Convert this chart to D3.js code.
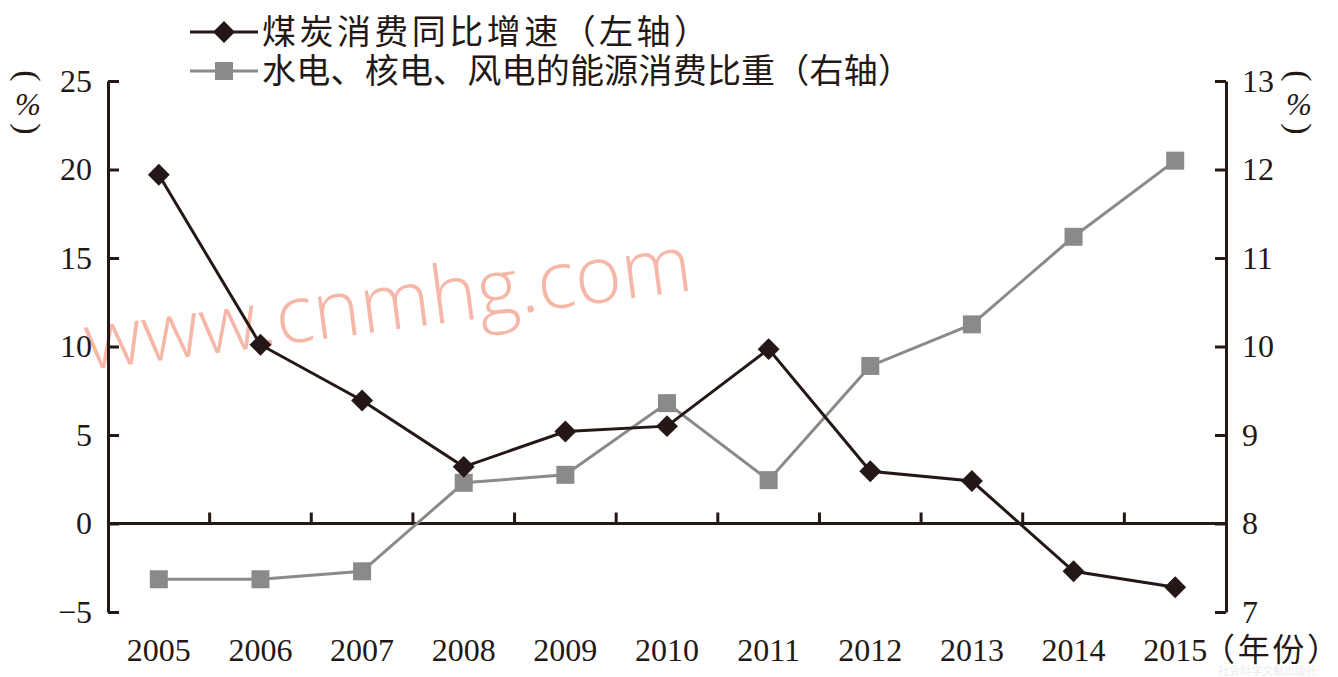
<!DOCTYPE html>
<html><head><meta charset="utf-8">
<script src="https://cdn.jsdelivr.net/npm/d3@7"></script>
<style>html,body{margin:0;padding:0;background:#fff;}svg{display:block;}</style>
</head><body>
<svg id="c" width="1338" height="677"></svg>
<script>
const years = ["2005","2006","2007","2008","2009","2010","2011","2012","2013","2014","2015"];
const coalGrowth = [19.7, 10.1, 6.95, 3.2, 5.2, 5.5, 9.85, 2.95, 2.4, -2.7, -3.6];
const cleanShare = [7.37, 7.37, 7.46, 8.46, 8.55, 9.36, 8.49, 9.78, 10.25, 11.24, 12.1];
const leftTicks = [-5, 0, 5, 10, 15, 20, 25];
const rightTicks = [7, 8, 9, 10, 11, 12, 13];
const legendLabels = ["煤炭消费同比增速（左轴）", "水电、核电、风电的能源消费比重（右轴）"];
const xUnit = "（年份）";

const ink = "#231815", grey = "#8a8a8a";
const svg = d3.select("#c");
const x = d3.scaleBand().domain(years).range([108, 1226]);
const yL = d3.scaleLinear().domain([-5, 25]).range([612, 81]);
const yR = d3.scaleLinear().domain([7, 13]).range([612, 81]);
const cx = d => x(d) + x.bandwidth() / 2;

// watermark
svg.append("text").text("www.cnmhg.com")
  .attr("transform", "translate(88,370) rotate(-7.5)")
  .attr("font-family", "Open Sans").attr("font-weight", 300)
  .attr("font-size", 80).attr("fill", "#f5b8a8");

const serif = "Liberation Serif, Times New Roman, serif";
const cjk = "Noto Sans CJK SC, sans-serif";

// left axis
const gL = svg.append("g").attr("transform", "translate(108,0)")
  .call(d3.axisLeft(yL).tickValues(leftTicks).tickSizeInner(-11).tickSizeOuter(0).tickPadding(16)
    .tickFormat(d => d < 0 ? "\u2212" + Math.abs(d) : d));
// right axis
const gR = svg.append("g").attr("transform", "translate(1226,0)")
  .call(d3.axisRight(yR).tickValues(rightTicks).tickSizeInner(-11).tickSizeOuter(0).tickPadding(16)
    .tickFormat(d3.format("d")));
[gL, gR].forEach(g => {
  g.selectAll("path").attr("stroke", ink).attr("stroke-width", 3);
  g.selectAll("line").attr("stroke", ink).attr("stroke-width", 3);
  g.selectAll("text").attr("font-family", serif).attr("font-size", 32).attr("fill", ink);
});

// zero line x-axis
const y0 = yL(0);
svg.append("line").attr("x1", 108).attr("x2", 1226).attr("y1", y0).attr("y2", y0)
  .attr("stroke", ink).attr("stroke-width", 3);
svg.selectAll(".xt").data(years.slice(1)).join("line")
  .attr("x1", d => x(d)).attr("x2", d => x(d)).attr("y1", y0).attr("y2", y0 - 11)
  .attr("stroke", ink).attr("stroke-width", 3);
svg.selectAll(".xl").data(years).join("text")
  .attr("x", d => cx(d)).attr("y", 661).attr("text-anchor", "middle")
  .attr("font-family", serif).attr("font-size", 32).attr("fill", ink).text(d => d);
svg.append("text").attr("x", 1203).attr("y", 661).attr("font-family", cjk)
  .attr("font-size", 32).attr("fill", ink)
  .attr("textLength", 136).attr("lengthAdjust", "spacing").text(xUnit);

// unit labels (vertical)
function unit(xc) {
  const g = svg.append("g").attr("font-family", serif).attr("fill", ink).attr("text-anchor", "middle");
  g.append("text").attr("transform", `translate(${xc},76) rotate(90)`).attr("dominant-baseline", "central")
    .attr("font-size", 34).text("(");
  g.append("text").attr("x", xc).attr("y", 115).attr("font-style", "italic")
    .attr("font-size", 31).text("%");
  g.append("text").attr("transform", `translate(${xc},129) rotate(90)`).attr("dominant-baseline", "central")
    .attr("font-size", 34).text(")");
}
unit(28); unit(1299);

// lines
const lineL = d3.line().x((d, i) => cx(years[i])).y(d => yL(d));
const lineR = d3.line().x((d, i) => cx(years[i])).y(d => yR(d));
svg.append("path").datum(cleanShare).attr("d", lineR).attr("fill", "none").attr("stroke", grey).attr("stroke-width", 3);
svg.selectAll(".sq").data(cleanShare).join("rect")
  .attr("x", (d, i) => cx(years[i]) - 9).attr("y", d => yR(d) - 9).attr("width", 18).attr("height", 18).attr("fill", grey);
svg.append("path").datum(coalGrowth).attr("d", lineL).attr("fill", "none").attr("stroke", ink).attr("stroke-width", 3);
const diamond = d3.symbol().type(d3.symbolSquare).size(240);
svg.selectAll(".dm").data(coalGrowth).join("path")
  .attr("d", diamond).attr("transform", (d, i) => `translate(${cx(years[i])},${yL(d)}) rotate(45)`).attr("fill", ink);

// legend
const lg = svg.append("g");
lg.append("line").attr("x1", 190).attr("x2", 258).attr("y1", 32).attr("y2", 32).attr("stroke", ink).attr("stroke-width", 3);
lg.append("path").attr("d", diamond).attr("transform", "translate(224,32) rotate(45)").attr("fill", ink);
lg.append("line").attr("x1", 190).attr("x2", 258).attr("y1", 71).attr("y2", 71).attr("stroke", grey).attr("stroke-width", 3);
lg.append("rect").attr("x", 215).attr("y", 62).attr("width", 18).attr("height", 18).attr("fill", grey);
const legendWidths = [446, 650];
lg.selectAll(".lt").data(legendLabels).join("text")
  .attr("x", 262).attr("y", (d, i) => 44 + i * 39).attr("font-family", cjk).attr("font-size", 34)
  .attr("textLength", (d, i) => legendWidths[i]).attr("lengthAdjust", "spacing")
  .attr("fill", ink).text(d => d);

// faint corner mark
svg.append("text").attr("x", 1218).attr("y", 675).attr("font-family", cjk).attr("font-size", 11)
  .attr("fill", "#ececec").text("社会科学文献出版社");
</script>
</body></html>
